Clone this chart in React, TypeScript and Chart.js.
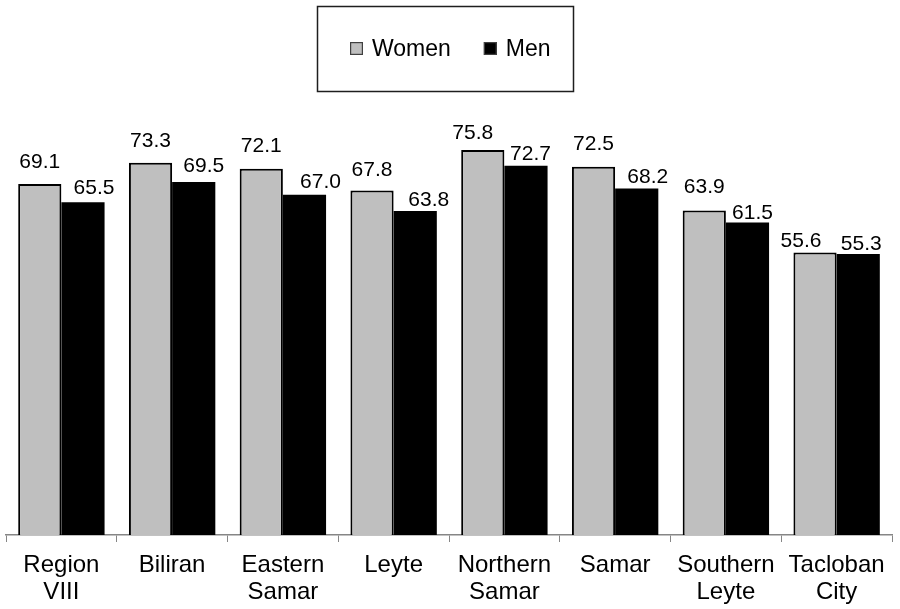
import React, { useEffect, useRef } from "react";
import { Chart, registerables } from "chart.js";

Chart.register(...registerables);

// Provinces and city of Eastern Visayas
const categories: string[][] = [
  ["Region", "VIII"],
  ["Biliran"],
  ["Eastern", "Samar"],
  ["Leyte"],
  ["Northern", "Samar"],
  ["Samar"],
  ["Southern", "Leyte"],
  ["Tacloban", "City"],
];

const womenValues = [69.1, 73.3, 72.1, 67.8, 75.8, 72.5, 63.9, 55.6];
const menValues = [65.5, 69.5, 67.0, 63.8, 72.7, 68.2, 61.5, 55.3];

const seriesNames = ["Women", "Men"];

// Hand-tuned value label placement: horizontal shift and gap above the bar (px)
const womenLabelShift = [0, 0, 0, 0, -10, 0, 0, -14];
const womenLabelGap = [15.6, 16, 16.7, 15, 11, 16.7, 17.3, 5.6];
const menLabelShift = [11, 10, 16, 13.5, 4.5, 11, 5, 3];
const menLabelGap = [8.4, 10, 7, 4.7, 6, 5.7, 4, 3.7];

const FONT = "'Liberation Sans', Arial, sans-serif";

const valueLabels = {
  id: "valueLabels",
  afterDatasetsDraw(chart: any) {
    const ctx = chart.ctx;
    const placement = [
      { shift: womenLabelShift, gap: womenLabelGap },
      { shift: menLabelShift, gap: menLabelGap },
    ];
    ctx.save();
    ctx.font = `21px ${FONT}`;
    ctx.fillStyle = "#000";
    ctx.textAlign = "center";
    ctx.textBaseline = "alphabetic";
    chart.data.datasets.forEach((ds: any, di: number) => {
      const meta = chart.getDatasetMeta(di);
      meta.data.forEach((bar: any, i: number) => {
        const v = ds.data[i] as number;
        const p = placement[di];
        ctx.fillText(v.toFixed(1), bar.x + p.shift[i], bar.y - p.gap[i]);
      });
    });
    ctx.restore();
  },
};

const boxedLegend = {
  id: "boxedLegend",
  afterDraw(chart: any) {
    const ctx = chart.ctx;
    const boxLeft = 317;
    const boxTop = 6;
    const boxW = 256;
    const boxH = 85;
    ctx.save();
    ctx.lineWidth = 1.5;
    ctx.strokeStyle = "#1e1e1e";
    ctx.strokeRect(boxLeft + 0.5, boxTop + 0.5, boxW, boxH);

    ctx.font = `23px ${FONT}`;
    const marker = 13;
    const markerGap = 9;
    const itemGap = 33;
    const centerY = 48.5;
    let x = boxLeft + 33;
    chart.data.datasets.forEach((ds: any) => {
      ctx.fillStyle = ds.backgroundColor;
      ctx.fillRect(x, centerY - marker / 2, marker, marker);
      ctx.lineWidth = 1.2;
      ctx.strokeStyle = "#404040";
      ctx.strokeRect(x + 0.6, centerY - marker / 2 + 0.6, marker - 1.2, marker - 1.2);
      ctx.fillStyle = "#000";
      ctx.textAlign = "left";
      ctx.textBaseline = "middle";
      ctx.fillText(ds.label, x + marker + markerGap, centerY + 1);
      x += marker + markerGap + ctx.measureText(ds.label).width + itemGap;
    });
    ctx.restore();
  },
};

export default function App() {
  const canvasRef = useRef<HTMLCanvasElement | null>(null);

  useEffect(() => {
    if (!canvasRef.current) return;
    const chart = new Chart(canvasRef.current, {
      type: "bar",
      data: {
        labels: categories,
        datasets: [
          {
            label: seriesNames[0],
            data: womenValues,
            backgroundColor: "#bfbfbf",
            borderColor: "#000000",
            borderWidth: 2,
            categoryPercentage: 0.78,
            barPercentage: 1,
          },
          {
            label: seriesNames[1],
            data: menValues,
            backgroundColor: "#000000",
            borderColor: "#000000",
            borderWidth: 0,
            categoryPercentage: 0.78,
            barPercentage: 1,
          },
        ],
      },
      options: {
        animation: false,
        responsive: false,
        layout: { padding: { top: 27, left: 6, right: 8, bottom: 0 } },
        plugins: {
          legend: { display: false },
          tooltip: { enabled: false },
        },
        scales: {
          x: {
            offset: true,
            grid: {
              offset: true,
              display: true,
              drawOnChartArea: false,
              drawTicks: true,
              tickLength: 7,
              color: "#868686",
              lineWidth: 1,
            },
            border: { display: true, color: "#868686", width: 1.5 },
            ticks: {
              color: "#000",
              padding: 10,
              maxRotation: 0,
              autoSkip: false,
              font: { family: FONT, size: 24, lineHeight: 1.11 },
            },
            afterFit: (scale: any) => {
              scale.height = 74;
            },
          },
          y: {
            display: false,
            min: 0,
            max: 100,
          },
        },
      },
      plugins: [valueLabels, boxedLegend],
    });
    return () => chart.destroy();
  }, []);

  return (
    <div style={{ position: "absolute", left: 0, top: 0, width: 900, height: 609, background: "#fff" }}>
      <canvas ref={canvasRef} width={900} height={609} />
    </div>
  );
}
